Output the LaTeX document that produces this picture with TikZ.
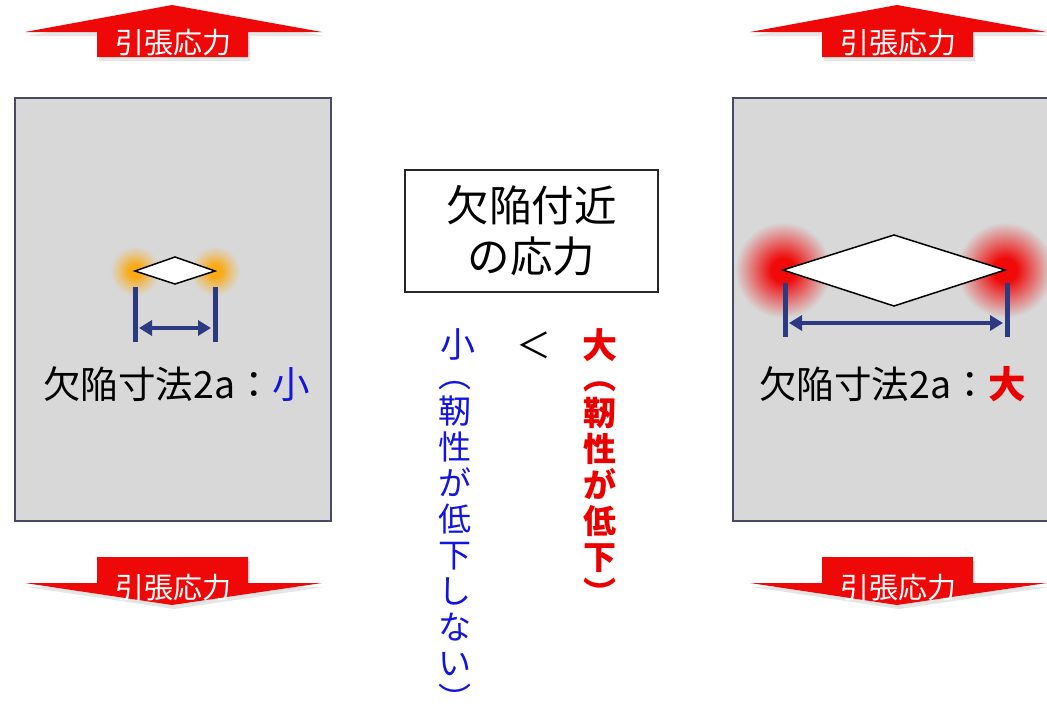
\documentclass[tikz,border=0pt]{standalone}
\usepackage{fontspec}
\setmainfont{Noto Sans CJK JP}
\usetikzlibrary{arrows.meta}
\definecolor{panel}{RGB}{216,216,216}
\definecolor{border}{RGB}{72,72,104}
\definecolor{navy}{RGB}{44,58,130}
\definecolor{arrowred}{RGB}{238,8,8}
\definecolor{txtblue}{RGB}{20,20,225}
\definecolor{txtred}{RGB}{235,0,0}
\definecolor{glowred}{RGB}{240,10,10}
\definecolor{gloworange}{RGB}{250,170,20}
\pgfdeclareradialshading{redglow}{\pgfpoint{0bp}{0bp}}{color(0bp)=(glowred); color(6bp)=(glowred); color(14bp)=(glowred!55!panel); color(24bp)=(panel); color(50bp)=(panel)}
\pgfdeclareradialshading{orangeglow}{\pgfpoint{0bp}{0bp}}{color(0bp)=(gloworange); color(6bp)=(gloworange); color(15bp)=(gloworange!45!panel); color(24bp)=(panel); color(50bp)=(panel)}
\tikzset{
  arrowtxt/.style={text=white, font=\fontsize{29}{32}\selectfont, inner sep=0pt},
  flaw/.style={fill=white, draw=black, line width=1.5pt, line join=miter},
  bar/.style={draw=navy, line width=5pt},
  dimarrow/.style={draw=navy, line width=4.5pt, {Triangle[length=13pt,width=15pt]}-{Triangle[length=13pt,width=15pt]}},
  sizelabel/.style={font=\fontsize{37.5}{42}\selectfont, inner sep=0pt},
  vtext/.style={align=center, inner sep=0pt, font=\fontsize{33}{36}\selectfont},
  panelframe/.style={draw=border, line width=1.2pt},
}
\begin{document}
\begin{tikzpicture}[x=1pt,y=-1pt]
\useasboundingbox (0,0) rectangle (1047,704);
% panels
\fill[panel] (15,98) rectangle (331,521);
\fill[panel] (733,98) rectangle (1065,521);
% arrows (left and right)
\foreach \dx in {0,725}{
  \begin{scope}[xshift=\dx pt]
    \fill[black, opacity=0.10] (99,61) -- (99,36) -- (27,36) -- (174,9) -- (324,36) -- (250,36) -- (250,61) -- cycle;
    \fill[arrowred] (97,57) -- (97,32) -- (25,32) -- (172,5) -- (322,32) -- (248,32) -- (248,57) -- cycle;
    \fill[black, opacity=0.10] (99,561) -- (99,587) -- (27,587) -- (174,609) -- (324,587) -- (250,587) -- (250,561) -- cycle;
    \fill[arrowred] (97,557) -- (97,583) -- (25,583) -- (172,605) -- (322,583) -- (248,583) -- (248,557) -- cycle;
  \end{scope}
}
\node[arrowtxt] (atl) at (173,43) {引張応力};
\node[arrowtxt] (atr) at (898,43) {引張応力};
\node[arrowtxt] (abl) at (173,588) {引張応力};
\node[arrowtxt] (abr) at (898,588) {引張応力};
% left flaw
\shade[shading=orangeglow] (135,271) circle[radius=26pt];
\shade[shading=orangeglow] (215,271) circle[radius=26pt];
\coordinate (l1) at (135,271);
\coordinate (l2) at (175,257);
\coordinate (l3) at (215,271);
\coordinate (l4) at (175,284);
\draw[flaw] (l1) -- (l2) -- (l3) -- (l4) -- cycle;
\coordinate (lbt) at (135,287);
\coordinate (lbb) at (135,342);
\coordinate (rbt) at (215,287);
\coordinate (rbb) at (215,342);
\draw[bar] (lbt) -- (lbb);
\draw[bar] (rbt) -- (rbb);
\coordinate (la) at (139,328);
\coordinate (lb) at (211,328);
\draw[dimarrow] (la) -- (lb);
\node[sizelabel, anchor=west] (lsize) at (43,384) {欠陥寸法2a：\textcolor{txtblue}{小}};
% right flaw
\shade[shading=redglow] (783,270) circle[radius=50pt];
\shade[shading=redglow] (1005,270) circle[radius=50pt];
\coordinate (r1) at (783,270);
\coordinate (r2) at (894,235);
\coordinate (r3) at (1005,270);
\coordinate (r4) at (894,306);
\draw[flaw] (r1) -- (r2) -- (r3) -- (r4) -- cycle;
\coordinate (rlt) at (785,283);
\coordinate (rlb) at (785,337);
\coordinate (rrt) at (1007,283);
\coordinate (rrb) at (1007,337);
\draw[bar] (rlt) -- (rlb);
\draw[bar] (rrt) -- (rrb);
\coordinate (ra) at (789,323);
\coordinate (rb) at (1003,323);
\draw[dimarrow] (ra) -- (rb);
\node[sizelabel, anchor=west] (rsize) at (759,384) {欠陥寸法2a：\textcolor{txtred}{\bfseries 大}};
% panel frames on top
\draw[panelframe] (15,98) rectangle (331,521);
\draw[panelframe] (733,98) rectangle (1065,521);
% center box
\node[draw=black!85, line width=1.2pt, minimum width=253pt, minimum height=122pt, align=center, font=\fontsize{42.5}{51}\selectfont] (cbox) at (531.5,231) {欠陥付近\\の応力};
% comparison
\node[font=\fontsize{35}{38}\selectfont, text=txtblue, inner sep=0pt] (small) at (458,344) {小};
\node[font=\fontsize{35}{38}\selectfont, inner sep=0pt] (lt) at (534,345) {＜};
\node[font=\fontsize{35}{38}\selectfont\bfseries, text=txtred, inner sep=0pt] (big) at (600,345) {大};
\node[vtext, text=txtblue] (bluecol) at (455,546) {︵\\靭\\性\\が\\低\\下\\し\\な\\い\\︶};
\node[vtext, text=txtred, font=\fontsize{33}{36}\selectfont\bfseries] (redcol) at (600,494) {︵\\靭\\性\\が\\低\\下\\︶};
\end{tikzpicture}
\end{document}
